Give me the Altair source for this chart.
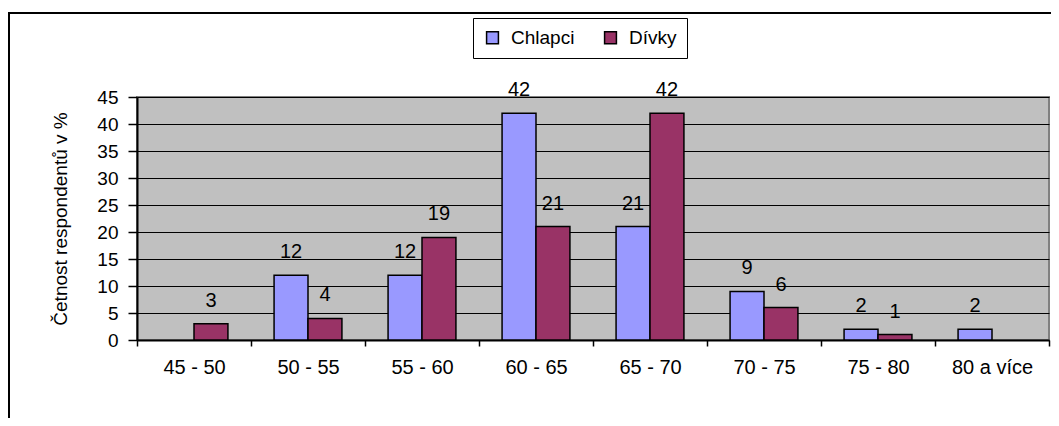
import altair as alt
import pandas as pd

categories = ["45 - 50", "50 - 55", "55 - 60", "60 - 65", "65 - 70", "70 - 75", "75 - 80", "80 a více"]
chlapci = [None, 12, 12, 42, 21, 9, 2, 2]
divky = [3, 4, 19, 21, 42, 6, 1, None]
series = ["Chlapci", "Dívky"]
colors = ["#9999FF", "#993366"]
y_ticks = list(range(0, 50, 5))

rows = []
for c, a, b in zip(categories, chlapci, divky):
    rows.append({"kat": c, "pohlavi": series[0], "hodnota": a})
    rows.append({"kat": c, "pohlavi": series[1], "hodnota": b})
df = pd.DataFrame(rows)

W, H = 912, 243
FONT = "Liberation Sans"

x = alt.X(
    "kat:N", sort=categories, title=None,
    scale=alt.Scale(paddingInner=0, paddingOuter=0),
    axis=alt.Axis(labelAngle=0, tickBand="extent", grid=False, domainColor="black",
                  domainWidth=2, tickColor="black", tickWidth=1.5, tickSize=6,
                  labelPadding=11, labelFontSize=20, labelColor="black", labelFont=FONT),
)
xo = alt.XOffset("pohlavi:N", sort=series, scale=alt.Scale(paddingInner=0, paddingOuter=0.68))
y = alt.Y(
    "hodnota:Q", scale=alt.Scale(domain=[0, 45], nice=False),
    axis=alt.Axis(values=y_ticks, title="Četnost respondentů v %", titleFontSize=19,
                  titleFontWeight="normal", titleColor="black", titleFont=FONT, titlePadding=26,
                  labelFontSize=19, labelColor="black", labelFont=FONT, labelPadding=10,
                  tickSize=9, tickColor="black", tickWidth=1.5, domainColor="black",
                  domainWidth=2, grid=True, gridColor="black", gridWidth=1, gridOpacity=1),
)
color = alt.Color("pohlavi:N", sort=series, scale=alt.Scale(domain=series, range=colors),
                  legend=alt.Legend(title=None))

frame = alt.Chart(pd.DataFrame({"f": [0]})).mark_rect(
    fillOpacity=0, stroke="black", strokeWidth=2
).encode(x=alt.value(-128), x2=alt.value(W + 200), y=alt.value(-84), y2=alt.value(H + 200))

bars = alt.Chart(df).mark_bar(stroke="black", strokeWidth=1.5).encode(
    x=x, xOffset=xo, y=y, color=color
)
labels = alt.Chart(df).transform_filter("datum.hodnota != null").mark_text(
    dy=-17, baseline="alphabetic", fontSize=20, font=FONT, color="black"
).encode(x=x, xOffset=xo, y=y, text="hodnota:Q")

chart = alt.layer(frame, bars, labels).properties(
    width=W, height=H,
    autosize=alt.AutoSizeParams(type="none"),
    padding={"left": 129, "top": 89, "right": 2, "bottom": 78},
).configure(font=FONT).configure_view(
    fill="#C0C0C0", stroke="#808080", strokeWidth=2
).configure_legend(
    orient="none", legendX=336, legendY=-79, direction="horizontal",
    strokeColor="black", padding=10, fillColor="white",
    labelFontSize=19, labelFont=FONT, labelColor="black",
    symbolType="square", symbolSize=140, symbolStrokeColor="black",
    symbolStrokeWidth=1.5, symbolOpacity=1, labelOffset=9, columnPadding=26,
)

chart.save("out.html", embed_options={"renderer": "svg", "actions": False})
